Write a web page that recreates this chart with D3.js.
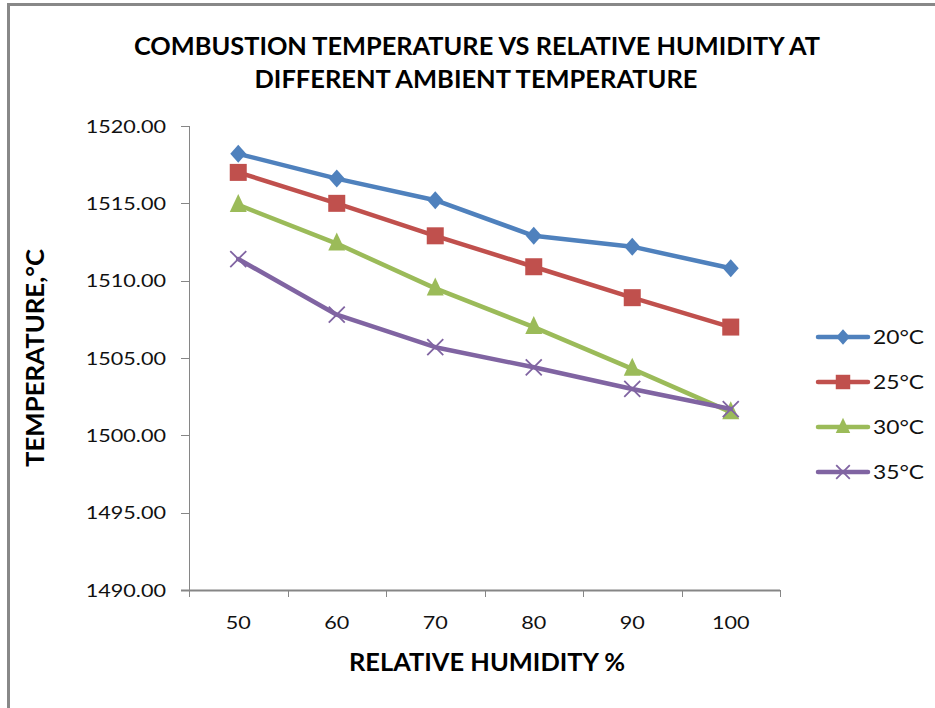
<!DOCTYPE html>
<html>
<head>
<meta charset="utf-8">
<script src="https://cdn.jsdelivr.net/npm/d3@7"></script>
<style>
  html, body { margin: 0; padding: 0; background: #fff; }
  svg { display: block; }
  text { font-family: Lato, "Open Sans", "Liberation Sans", sans-serif; }
</style>
</head>
<body>
<svg id="chart" width="935" height="708"></svg>
<script>
// Relative humidity categories (%)
const humidity = [50, 60, 70, 80, 90, 100];

// Combustion temperature (°C) at each ambient temperature
const temp20 = [1518.2, 1516.6, 1515.2, 1512.9, 1512.2, 1510.8];
const temp25 = [1517.0, 1515.0, 1512.9, 1510.9, 1508.9, 1507.0];
const temp30 = [1514.9, 1512.4, 1509.5, 1507.0, 1504.3, 1501.5];
const temp35 = [1511.4, 1507.8, 1505.7, 1504.4, 1503.0, 1501.7];

const seriesNames = ["20°C", "25°C", "30°C", "35°C"];
const yTicks = [1490, 1495, 1500, 1505, 1510, 1515, 1520];

const series = [
  { name: seriesNames[0], values: temp20, color: "#4F81BD", marker: "diamond" },
  { name: seriesNames[1], values: temp25, color: "#C0504D", marker: "square" },
  { name: seriesNames[2], values: temp30, color: "#9BBB59", marker: "triangle" },
  { name: seriesNames[3], values: temp35, color: "#8064A2", marker: "cross" }
];

const svg = d3.select("#chart");
const plot = { left: 189, right: 780, top: 126, bottom: 590 };
const axisColor = "#868686";
const sx = 1.2; // horizontal stretch applied to labels

// Outer frame
svg.append("path")
  .attr("d", "M8.5,708 L8.5,4.5 L935,4.5")
  .attr("fill", "none").attr("stroke", "#888").attr("stroke-width", 3);

const x = d3.scaleBand().domain(humidity).range([plot.left, plot.right]).padding(0);
const y = d3.scaleLinear().domain([1490, 1520]).range([plot.bottom, plot.top]);
const cx = d => x(d) + x.bandwidth() / 2;

function stretchedText(g, tx, ty, str, anchor) {
  return g.append("text")
    .attr("transform", `translate(${tx},${ty}) scale(${sx},1)`)
    .attr("text-anchor", anchor)
    .text(str);
}

// Y axis
const yAxis = svg.append("g");
yAxis.append("line")
  .attr("x1", plot.left + 0.5).attr("x2", plot.left + 0.5)
  .attr("y1", y(1520)).attr("y2", y(1490))
  .attr("stroke", axisColor).attr("stroke-width", 1);
yTicks.forEach(t => {
  yAxis.append("line")
    .attr("x1", plot.left - 8).attr("x2", plot.left)
    .attr("y1", Math.round(y(t)) + 0.5).attr("y2", Math.round(y(t)) + 0.5)
    .attr("stroke", axisColor).attr("stroke-width", 1);
  stretchedText(yAxis, plot.left - 23, y(t) + 6.5, d3.format(".2f")(t), "end")
    .attr("font-size", 18).attr("fill", "#111");
});

// X axis
const xAxis = svg.append("g");
xAxis.append("line")
  .attr("x1", plot.left - 8).attr("x2", plot.right)
  .attr("y1", plot.bottom + 0.5).attr("y2", plot.bottom + 0.5)
  .attr("stroke", axisColor).attr("stroke-width", 2);
const edges = humidity.map(h => x(h)).concat([plot.right]);
edges.forEach(e => {
  xAxis.append("line")
    .attr("x1", Math.round(e) + 0.5).attr("x2", Math.round(e) + 0.5)
    .attr("y1", plot.bottom).attr("y2", plot.bottom + 7)
    .attr("stroke", axisColor).attr("stroke-width", 1);
});
humidity.forEach(h => {
  stretchedText(xAxis, cx(h), plot.bottom + 39, String(h), "middle")
    .attr("font-size", 18).attr("fill", "#111");
});

// Titles
svg.append("text")
  .attr("x", 477).attr("y", 55).attr("text-anchor", "middle")
  .attr("font-size", 25).attr("font-weight", "bold")
  .attr("textLength", 686).attr("lengthAdjust", "spacingAndGlyphs")
  .text("COMBUSTION TEMPERATURE  VS RELATIVE HUMIDITY AT");
svg.append("text")
  .attr("x", 476).attr("y", 88).attr("text-anchor", "middle")
  .attr("font-size", 25).attr("font-weight", "bold")
  .attr("textLength", 443).attr("lengthAdjust", "spacingAndGlyphs")
  .text("DIFFERENT AMBIENT TEMPERATURE");
svg.append("text")
  .attr("x", 487).attr("y", 671).attr("text-anchor", "middle")
  .attr("font-size", 24).attr("font-weight", "bold")
  .attr("textLength", 276).attr("lengthAdjust", "spacingAndGlyphs")
  .text("RELATIVE HUMIDITY %");
svg.append("text")
  .attr("transform", "translate(44,358) rotate(-90)")
  .attr("text-anchor", "middle")
  .attr("font-size", 24).attr("font-weight", "bold")
  .attr("textLength", 218).attr("lengthAdjust", "spacingAndGlyphs")
  .text("TEMPERATURE,°C");

// Marker shapes
function drawMarker(g, type, px, py, color, scale) {
  const s = scale || 1;
  if (type === "diamond") {
    const w = 8 * s, h = 9 * s;
    g.append("path").attr("d", `M${px},${py - h}L${px + w},${py}L${px},${py + h}L${px - w},${py}Z`)
      .attr("fill", color);
  } else if (type === "square") {
    const h = 8.5 * s;
    g.append("rect").attr("x", px - h).attr("y", py - h).attr("width", 2 * h).attr("height", 2 * h)
      .attr("fill", color);
  } else if (type === "triangle") {
    const w = 8.5 * s;
    g.append("path").attr("d", `M${px},${py - 11 * s}L${px + w},${py + 7 * s}L${px - w},${py + 7 * s}Z`)
      .attr("fill", color);
  } else {
    const r = 8 * s;
    g.append("path").attr("d", `M${px - r},${py - r}L${px + r},${py + r}M${px - r},${py + r}L${px + r},${py - r}`)
      .attr("stroke", color).attr("stroke-width", 1.8).attr("fill", "none");
  }
}

// Series lines and markers
const line = d3.line().x((d, i) => cx(humidity[i])).y(d => y(d));
const marks = svg.append("g");
series.forEach(s => {
  marks.append("path")
    .attr("d", line(s.values))
    .attr("fill", "none").attr("stroke", s.color)
    .attr("stroke-width", 4.5).attr("stroke-linejoin", "round").attr("stroke-linecap", "round");
  s.values.forEach((v, i) => drawMarker(marks, s.marker, cx(humidity[i]), y(v), s.color, 1));
});

// Legend
const legend = svg.append("g");
series.forEach((s, i) => {
  const ly = 337 + i * 45;
  legend.append("line")
    .attr("x1", 818).attr("x2", 868).attr("y1", ly).attr("y2", ly)
    .attr("stroke", s.color).attr("stroke-width", 4.5).attr("stroke-linecap", "round");
  drawMarker(legend, s.marker, 843, ly, s.color, 0.85);
  stretchedText(legend, 873, ly + 7, s.name, "start")
    .attr("font-size", 19).attr("fill", "#111");
});
</script>
</body>
</html>
